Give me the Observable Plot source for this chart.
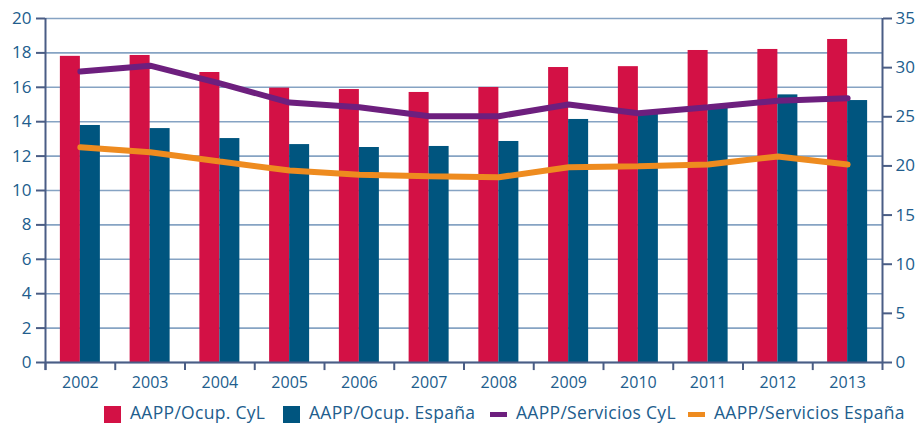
<!DOCTYPE html>
<html>
<head>
<meta charset="utf-8">
<script src="https://cdn.jsdelivr.net/npm/d3@7"></script>
<script src="https://cdn.jsdelivr.net/npm/@observablehq/plot@0.6"></script>
<style>
  html, body { margin: 0; padding: 0; background: #fff; }
  #wrap { position: relative; width: 918px; height: 423px; font-family: "Open Sans", sans-serif; color: #215d8d; }
  #legend { position: absolute; left: 0; top: 401px; width: 918px; height: 22px; font-size: 17.5px; line-height: 22px; letter-spacing: 0.3px; white-space: nowrap; }
  .item { position: absolute; top: 0; display: flex; align-items: center; height: 22px; }
  .sw { width: 17px; height: 17px; margin-right: 9px; flex: none; position: relative; top: 2px; }
  .ln { width: 17px; height: 5px; margin-right: 9px; flex: none; position: relative; top: 2px; }
</style>
</head>
<body>
<div id="wrap">
  <div id="chart"></div>
  <div id="legend"></div>
</div>
<script>
const years = ["2002","2003","2004","2005","2006","2007","2008","2009","2010","2011","2012","2013"];
const ocupCyL = [17.8, 17.85, 16.86, 15.95, 15.87, 15.7, 15.99, 17.15, 17.2, 18.14, 18.2, 18.78];
const ocupEsp = [13.78, 13.6, 13.02, 12.67, 12.5, 12.56, 12.85, 14.13, 14.5, 14.85, 15.56, 15.23];
const servCyL = [29.6, 30.2, 28.4, 26.45, 25.97, 25.06, 25.06, 26.25, 25.36, 25.97, 26.63, 26.89];
const servEsp = [21.9, 21.4, 20.45, 19.53, 19.1, 18.96, 18.85, 19.87, 19.97, 20.14, 20.96, 20.14];
const leftTicks = [0, 2, 4, 6, 8, 10, 12, 14, 16, 18, 20];
const rightTicks = [0, 5, 10, 15, 20, 25, 30, 35];
const seriesNames = ["AAPP/Ocup. CyL", "AAPP/Ocup. España", "AAPP/Servicios CyL", "AAPP/Servicios España"];

const red = "#d31145", blue = "#00557f", purple = "#6d1f7e", orange = "#ee8b1f";
const gridColor = "#86a3c3", axisColor = "#4a5d85", textColor = "#215d8d";
const leftMax = 20, rightMax = 35;
const toLeft = v => v * leftMax / rightMax;

const data = years.map((y, i) => ({year: y, cyl: ocupCyL[i], esp: ocupEsp[i], sCyl: servCyL[i], sEsp: servEsp[i]}));
const half = 837 / 12 / 2;

const chart = Plot.plot({
  width: 918,
  height: 395,
  marginLeft: 45,
  marginRight: 36,
  marginTop: 18,
  marginBottom: 33,
  style: {fontFamily: "'Open Sans', sans-serif", color: textColor, background: "white", overflow: "visible"},
  x: {type: "band", domain: years, paddingInner: 0.4265, paddingOuter: 0.21325, round: false, axis: null},
  y: {domain: [0, leftMax], axis: null},
  marks: [
    Plot.ruleY(leftTicks, {stroke: gridColor, strokeWidth: 1.6}),
    Plot.barY(data, {x: "year", y: "cyl", fill: red, insetRight: 20}),
    Plot.barY(data, {x: "year", y: "esp", fill: blue, insetLeft: 20}),
    Plot.line(data, {x: "year", y: d => toLeft(d.sCyl), stroke: purple, strokeWidth: 6, strokeLinejoin: "miter"}),
    Plot.line(data, {x: "year", y: d => toLeft(d.sEsp), stroke: orange, strokeWidth: 6, strokeLinejoin: "miter"}),
    Plot.ruleY([0], {stroke: axisColor, strokeWidth: 2}),
    Plot.ruleX(years, {x: d => d, dx: -half, y1: -0.47, y2: 0, stroke: axisColor, strokeWidth: 2}),
    Plot.ruleX([years[0]], {x: d => d, dx: -half, y1: -0.47, y2: leftMax, stroke: axisColor, strokeWidth: 2}),
    Plot.ruleX([years[years.length - 1]], {x: d => d, dx: half, y1: -0.47, y2: leftMax, stroke: axisColor, strokeWidth: 2}),
    Plot.axisY(leftTicks, {anchor: "left", tickSize: 9, tickPadding: 5, fontSize: 17, stroke: axisColor, strokeWidth: 2, fill: textColor, label: null}),
    Plot.axisY(rightTicks.map(toLeft), {anchor: "right", tickSize: 9, tickPadding: 4, fontSize: 17, stroke: axisColor, strokeWidth: 2, fill: textColor, label: null, tickFormat: d => String(Math.round(d * rightMax / leftMax))}),
    Plot.axisX({tickSize: 0, tickPadding: 14, fontSize: 16, fill: textColor, label: null})
  ]
});
document.getElementById("chart").appendChild(chart);

const legend = document.getElementById("legend");
const legendColors = [red, blue, purple, orange];
const legendKinds = ["sw", "sw", "ln", "ln"];
const legendLeft = [104, 283, 490, 688];
seriesNames.forEach((name, i) => {
  const item = document.createElement("div");
  item.className = "item";
  item.style.left = legendLeft[i] + "px";
  const s = document.createElement("div");
  s.className = legendKinds[i];
  s.style.background = legendColors[i];
  const t = document.createElement("span");
  t.textContent = name;
  item.appendChild(s);
  item.appendChild(t);
  legend.appendChild(item);
});
</script>
</body>
</html>
